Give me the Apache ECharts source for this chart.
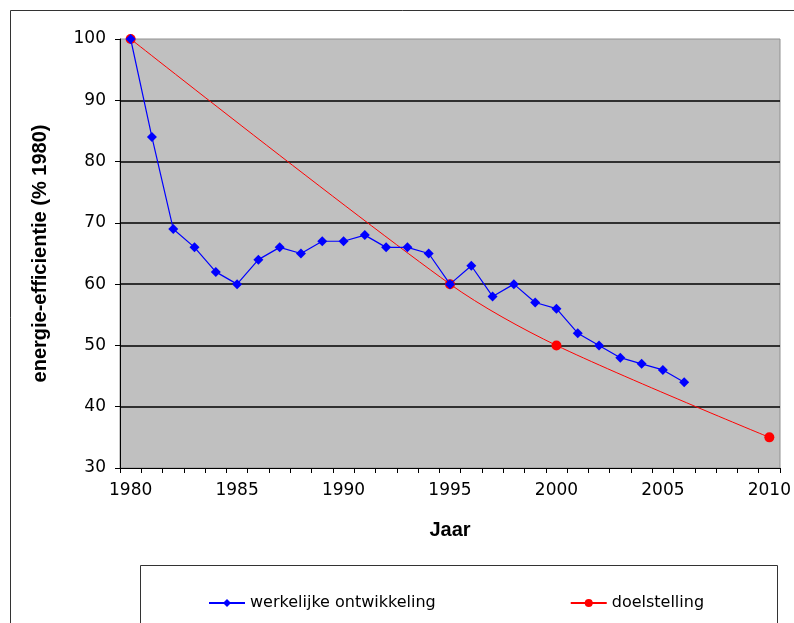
<!DOCTYPE html>
<html>
<head>
<meta charset="utf-8">
<script src="https://cdn.jsdelivr.net/npm/echarts@6/dist/echarts.min.js"></script>
<style>
  html, body { margin: 0; padding: 0; background: #fff; }
  #chart { width: 794px; height: 623px; }
</style>
</head>
<body>
<div id="chart"></div>
<script>
// jaren 1980 - 2010
var years = [];
for (var y = 1980; y <= 2010; y++) years.push(String(y));

// werkelijke ontwikkeling (1980 - 2006)
var werkelijk = [100, 84, 69, 66, 62, 60, 64, 66, 65, 67, 67, 68, 66, 66, 65, 60,
  63, 58, 60, 57, 56, 52, 50, 48, 47, 46, 44];

// doelstelling: alleen 1980, 1995, 2000, 2010
var doelJaren = ["1980", "1995", "2000", "2010"];
var doelWaarden = [100, 60, 50, 35];

var yTicks = [30, 40, 50, 60, 70, 80, 90, 100];

var doel = years.map(function (j) {
  var i = doelJaren.indexOf(j);
  return i >= 0 ? doelWaarden[i] : null;
});

var myChart = echarts.init(document.getElementById("chart"));
var option = {
  backgroundColor: "#fff",
  animation: false,
  graphic: [
    // kader rond de grafiek
    {
      type: "rect",
      shape: { x: 10.5, y: 10.5, width: 800, height: 640 },
      style: { fill: "none", stroke: "#333", lineWidth: 1 }
    },
    // kader legenda
    {
      type: "rect",
      shape: { x: 140.5, y: 565.5, width: 637, height: 80 },
      style: { fill: "#fff", stroke: "#333", lineWidth: 1 }
    }
  ],
  grid: {
    left: 120,
    right: 14,
    top: 39,
    bottom: 155,
    show: true,
    backgroundColor: "#c0c0c0",
    borderColor: "#909090",
    borderWidth: 1
  },
  legend: {
    left: 203,
    top: 590,
    itemWidth: 36,
    itemHeight: 10,
    itemGap: 134,
    textStyle: { fontFamily: "DejaVu Sans", fontSize: 16, color: "#000" },
    data: ["werkelijke ontwikkeling", "doelstelling"]
  },
  xAxis: {
    type: "category",
    data: years,
    boundaryGap: true,
    name: "Jaar",
    nameLocation: "middle",
    nameGap: 52,
    nameTextStyle: { fontFamily: "Liberation Sans", fontWeight: "bold", fontSize: 20, color: "#000" },
    axisLine: { lineStyle: { color: "#000", width: 1 } },
    axisTick: { show: true, interval: 0, length: 5, lineStyle: { color: "#000" } },
    axisLabel: {
      interval: 4,
      margin: 14,
      fontFamily: "DejaVu Sans",
      fontSize: 17,
      color: "#000"
    },
    splitLine: { show: false }
  },
  yAxis: {
    type: "value",
    min: yTicks[0],
    max: yTicks[yTicks.length - 1],
    interval: 10,
    name: "energie-efficientie (% 1980)",
    nameLocation: "middle",
    nameGap: 70,
    nameTextStyle: { fontFamily: "Liberation Sans", fontWeight: "bold", fontSize: 20, color: "#000" },
    axisLine: { show: true, lineStyle: { color: "#000", width: 1 } },
    axisTick: { show: true, length: 5, lineStyle: { color: "#000" } },
    axisLabel: {
      margin: 14,
      fontFamily: "DejaVu Sans",
      fontSize: 17,
      color: "#000"
    },
    splitLine: {
      show: true,
      showMinLine: false,
      showMaxLine: false,
      lineStyle: { color: "#000", width: 1.5 }
    }
  },
  series: [
    {
      name: "doelstelling",
      type: "line",
      data: doel,
      connectNulls: true,
      smooth: 0.3,
      symbol: "circle",
      symbolSize: 10,
      itemStyle: { color: "#ff0000" },
      lineStyle: { color: "#ff0000", width: 1 },
      z: 2
    },
    {
      name: "werkelijke ontwikkeling",
      type: "line",
      data: werkelijk,
      symbol: "diamond",
      symbolSize: 10,
      itemStyle: { color: "#0000ff" },
      lineStyle: { color: "#0000ff", width: 1.2 },
      z: 3
    }
  ]
};
myChart.setOption(option);
</script>
</body>
</html>
